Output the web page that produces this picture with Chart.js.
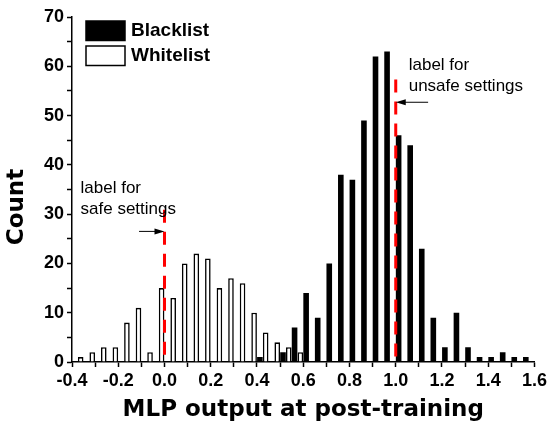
<!DOCTYPE html>
<html>
<head>
<meta charset="utf-8">
<script src="https://cdn.jsdelivr.net/npm/chart.js@4.4.1/dist/chart.umd.min.js"></script>
<style>
  html, body { margin: 0; padding: 0; background: #fff; }
  canvas { display: block; }
</style>
</head>
<body>
<canvas id="chart" width="550" height="424"></canvas>
<script>
// histogram bins (bin centres) and counts
const whiteBins = [-0.35, -0.3, -0.25, -0.2, -0.15, -0.1, -0.05, 0, 0.05, 0.1, 0.15, 0.2, 0.25, 0.3, 0.35, 0.4, 0.45, 0.5, 0.55, 0.6];
const whiteCounts = [1, 2, 3, 3, 8, 11, 2, 15, 13, 20, 22, 21, 15, 17, 16, 10, 6, 4, 3, 2];
const blackBins = [0.4, 0.5, 0.55, 0.6, 0.65, 0.7, 0.75, 0.8, 0.85, 0.9, 0.95, 1.0, 1.05, 1.1, 1.15, 1.2, 1.25, 1.3, 1.35, 1.4, 1.45, 1.5, 1.55];
const blackCounts = [1, 2, 7, 14, 9, 20, 38, 37, 49, 62, 63, 46, 44, 23, 9, 3, 10, 3, 1, 1, 2, 1, 1];
const seriesNames = ['Blacklist', 'Whitelist'];

// threshold markers and their notes
const markerX = [0, 1.0];
const markerTop = [30.9, 57.3];
const arrowFromX = [-0.11, 1.14];
const arrowY = [26.5, 52.7];
const noteX = [-0.363, 1.056];
const noteY = [35.2, 60.1];
const noteLines = [['label for', 'safe settings'], ['label for', 'unsafe settings']];

const tickFont = { family: 'Liberation Sans', size: 18, weight: 'bold' };
const titleFont = { family: 'DejaVu Sans', size: 23, weight: 'bold', lineHeight: 1 };

const extras = {
  id: 'extras',
  afterDatasetsDraw(chart) {
    const ctx = chart.ctx;
    const x = chart.scales.x, y = chart.scales.y;
    ctx.save();
    for (let i = 0; i < markerX.length; i++) {
      const px = x.getPixelForValue(markerX[i]);
      // red dashed threshold
      ctx.strokeStyle = '#ff0000';
      ctx.lineWidth = 3;
      ctx.setLineDash([13, 9]);
      ctx.beginPath();
      ctx.moveTo(px, y.getPixelForValue(markerTop[i]));
      ctx.lineTo(px, y.getPixelForValue(0));
      ctx.stroke();
      ctx.setLineDash([]);

      // arrow towards the line
      const ay = y.getPixelForValue(arrowY[i]);
      const ax = x.getPixelForValue(arrowFromX[i]);
      const dir = px > ax ? 1 : -1;
      ctx.strokeStyle = '#000';
      ctx.fillStyle = '#000';
      ctx.lineWidth = 1;
      ctx.beginPath();
      ctx.moveTo(ax, ay);
      ctx.lineTo(px - dir * 6, ay);
      ctx.stroke();
      ctx.beginPath();
      ctx.moveTo(px, ay);
      ctx.lineTo(px - dir * 10, ay - 3);
      ctx.lineTo(px - dir * 10, ay + 3);
      ctx.closePath();
      ctx.fill();

      // note text
      ctx.font = '17px "Liberation Sans"';
      ctx.textAlign = 'left';
      ctx.textBaseline = 'middle';
      const tx = x.getPixelForValue(noteX[i]);
      const ty = y.getPixelForValue(noteY[i]);
      noteLines[i].forEach((t, k) => ctx.fillText(t, tx, ty + k * 21));
    }

    // legend inside the plot
    const boxes = [chart.data.datasets[1], chart.data.datasets[0]];
    ctx.font = 'bold 19px "Liberation Sans"';
    boxes.forEach((ds, k) => {
      const top = 21 + k * 25;
      ctx.fillStyle = ds.backgroundColor;
      ctx.fillRect(86, top, 39, 19.5);
      ctx.strokeStyle = '#000';
      ctx.lineWidth = 1.5;
      ctx.strokeRect(86, top, 39, 19.5);
      ctx.fillStyle = '#000';
      ctx.fillText(seriesNames[k], 131, top + 10);
    });

    // y axis title
    ctx.translate(17, 207);
    ctx.rotate(-Math.PI / 2);
    ctx.textAlign = 'center';
    ctx.font = 'bold 23px "DejaVu Sans"';
    ctx.fillText('Count', 0, 0);
    ctx.restore();
  }
};

new Chart(document.getElementById('chart'), {
  type: 'bar',
  data: {
    datasets: [
      {
        label: seriesNames[1],
        data: whiteBins.map((b, i) => ({ x: b, y: whiteCounts[i] })),
        backgroundColor: '#ffffff',
        borderColor: '#000000',
        borderWidth: 1.6,
        categoryPercentage: 1,
        barPercentage: 0.97
      },
      {
        label: seriesNames[0],
        data: blackBins.map((b, i) => ({ x: b, y: blackCounts[i] })),
        backgroundColor: '#000000',
        borderWidth: 0,
        categoryPercentage: 1,
        barPercentage: 0.97
      }
    ]
  },
  options: {
    responsive: false,
    animation: false,
    devicePixelRatio: 1,
    layout: { padding: { top: 17, right: 14, bottom: 0, left: 0 } },
    plugins: { legend: { display: false }, tooltip: { enabled: false } },
    scales: {
      x: {
        type: 'linear',
        min: -0.4,
        max: 1.6,
        offset: false,
        grid: { offset: false, drawOnChartArea: false, tickLength: 5, tickColor: '#000', tickWidth: 1.5 },
        border: { color: '#000', width: 1.5 },
        ticks: {
          stepSize: 0.1,
          autoSkip: false,
          maxRotation: 0,
          color: '#000',
          padding: 3,
          font: tickFont,
          callback: v => Math.round(v * 10) % 2 === 0 ? v.toFixed(1) : ''
        },
        title: { display: true, text: 'MLP output at post-training', color: '#000', font: titleFont, padding: { top: 0, bottom: 2.5 } },
        afterFit: s => { s.height = 62; }
      },
      y: {
        min: 0,
        max: 70,
        grid: { drawOnChartArea: false, tickLength: 5, tickColor: '#000', tickWidth: 1.5 },
        border: { color: '#000', width: 1.5 },
        ticks: {
          stepSize: 5,
          color: '#000',
          padding: 3,
          font: tickFont,
          callback: v => v % 10 === 0 ? v : ''
        },
        afterFit: s => { s.width = 72; }
      }
    }
  },
  plugins: [extras]
});
</script>
</body>
</html>
